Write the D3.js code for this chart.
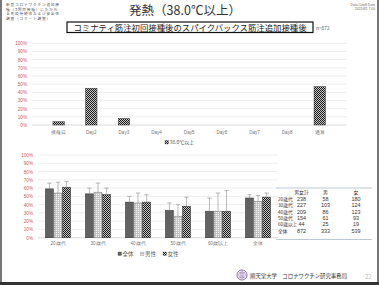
<!DOCTYPE html>
<html>
<head>
<meta charset="utf-8">
<script src="https://cdn.jsdelivr.net/npm/d3@7"></script>
<style>
  body { margin: 0; background: #fff; }
  svg { display: block; font-family: "Noto Sans CJK JP", "Noto Sans", sans-serif; }
</style>
</head>
<body>
<div id="chart"></div>
<script>
// top chart: share with fever >= 38.0 by day
const dayCats = ['接種日', 'Day2', 'Day3', 'Day4', 'Day5', 'Day6', 'Day7', 'Day8', '通算'];
const dayValues = [4, 45, 8, 0, 0, 0, 0, 0, 47];

// bottom chart: by age group and sex
const ageGroups = ['20歳代', '30歳代', '40歳代', '50歳代', '60歳以上', '全体'];
const sexSeries = ['全体', '男性', '女性'];
const sexValues = {
  '全体': [59, 53, 43, 33, 32, 48],
  '男性': [54, 55, 42, 26, 32, 44],
  '女性': [61, 52, 43, 38, 32, 49]
};
const sexUpper = {
  '全体': [66, 60, 50, 42, 48, 52],
  '男性': [67, 66, 54, 40, 54, 51],
  '女性': [68, 60, 52, 49, 57, 54]
};
const pctTicks = [0, 10, 20, 30, 40, 50, 60, 70, 80, 90, 100];

// table of n
const tableHead = ['男女計', '男', '女'];
const tableRows = [
  ['20歳代', 238, 58, 180],
  ['30歳代', 227, 103, 124],
  ['40歳代', 209, 86, 123],
  ['50歳代', 154, 61, 93],
  ['60歳以上', 44, 25, 19],
  ['全体', 872, 333, 539]
];

const width = 379, height = 285;
const svg = d3.select('#chart').append('svg')
  .attr('width', width)
  .attr('height', height);

// patterns
const defs = svg.append('defs');
const checker = defs.append('pattern')
  .attr('id', 'checker').attr('patternUnits', 'userSpaceOnUse')
  .attr('width', 2).attr('height', 2);
checker.append('rect').attr('width', 2).attr('height', 2).attr('fill', '#c8c8c8');
checker.append('rect').attr('width', 1).attr('height', 1).attr('fill', '#1a1a1a');
checker.append('rect').attr('x', 1).attr('y', 1).attr('width', 1).attr('height', 1).attr('fill', '#1a1a1a');

const dots = defs.append('pattern')
  .attr('id', 'dots').attr('patternUnits', 'userSpaceOnUse')
  .attr('width', 2).attr('height', 2);
dots.append('rect').attr('width', 2).attr('height', 2).attr('fill', '#c4c4c4');
dots.append('rect').attr('width', 1).attr('height', 1).attr('fill', '#fafafa');

const fills = { '全体': '#626262', '男性': 'url(#dots)', '女性': 'url(#checker)' };
const strokes = { '全体': '#3a3a3a', '男性': '#808080', '女性': '#333' };

// slide frame
svg.append('rect').attr('x', 0).attr('y', 0).attr('width', 2).attr('height', height).attr('fill', '#777');
svg.append('rect').attr('x', 377).attr('y', 0).attr('width', 2).attr('height', height).attr('fill', '#777');
svg.append('rect').attr('x', 0).attr('y', 282).attr('width', width).attr('height', 3).attr('fill', '#333');

// header texts
const note = ['新型コロナワクチン追加接', '種（3回目接種）にかかわ', 'る免疫持続性および安全性', '調査（コホート調査）'];
svg.append('g').selectAll('text')
  .data(note).enter().append('text')
  .attr('x', 6).attr('y', (d, i) => 6.3 + i * 4.5)
  .attr('font-size', 3.7).attr('letter-spacing', 0.8).attr('fill', '#555')
  .text(d => d);

svg.append('text')
  .attr('x', 185).attr('y', 15)
  .attr('text-anchor', 'middle')
  .attr('font-size', 12.5).attr('fill', '#333')
  .text('発熱（38.0℃以上）');

const cutoff = ['Data Cutoff Date', '2022/4/1 7:00'];
svg.append('g').selectAll('text')
  .data(cutoff).enter().append('text')
  .attr('x', 375).attr('y', (d, i) => 6 + i * 4)
  .attr('text-anchor', 'end')
  .attr('font-size', 3.3).attr('fill', '#666')
  .attr('font-family', '"Liberation Sans", sans-serif')
  .text(d => d);

svg.append('rect')
  .attr('x', 67).attr('y', 22).attr('width', 246).attr('height', 10.5)
  .attr('fill', 'none').attr('stroke', '#111').attr('stroke-width', 1.2);
svg.append('text')
  .attr('x', 190).attr('y', 30.5)
  .attr('text-anchor', 'middle')
  .attr('font-size', 8.4).attr('fill', '#222')
  .text('コミナティ筋注初回接種後のスパイクバックス筋注追加接種後');
svg.append('text').attr('x', 316).attr('y', 29.5).attr('font-size', 4.8).attr('fill', '#555').text('n=872');

// ---- top chart ----
const x1Scale = d3.scaleBand()
  .domain(dayCats)
  .range([31.7, 346.7])
  .padding(0.65);
const y1Scale = d3.scaleLinear()
  .domain([0, 100])
  .range([125, 43.3]);

const topChart = svg.append('g');
topChart.selectAll('line.grid')
  .data(pctTicks).enter().append('line')
  .attr('x1', 31.7).attr('x2', 346.7)
  .attr('y1', d => y1Scale(d)).attr('y2', d => y1Scale(d))
  .attr('stroke', d => d === 0 ? '#bfbfbf' : '#e3e3e3').attr('stroke-width', 0.6);

const yAxis1 = d3.axisLeft(y1Scale).tickValues(pctTicks).tickFormat(d => d + '%').tickSize(0).tickPadding(0);
topChart.append('g')
  .attr('transform', 'translate(27, 0)')
  .call(yAxis1)
  .call(g => g.select('.domain').remove())
  .call(g => g.selectAll('text').attr('font-size', 4.6).attr('fill', '#d05a5a').attr('font-family', '"Liberation Sans", sans-serif'));

const xAxis1 = d3.axisBottom(x1Scale).tickSize(0).tickPadding(0);
topChart.append('g')
  .attr('transform', 'translate(0, 131)')
  .call(xAxis1)
  .call(g => g.select('.domain').remove())
  .call(g => g.selectAll('text').attr('font-size', 4.6).attr('fill', '#777'));

topChart.selectAll('rect.bar')
  .data(dayValues).enter().append('rect')
  .attr('class', 'bar')
  .attr('x', (d, i) => x1Scale(dayCats[i]))
  .attr('y', d => y1Scale(d))
  .attr('width', x1Scale.bandwidth())
  .attr('height', d => y1Scale(0) - y1Scale(d))
  .attr('fill', 'url(#checker)')
  .attr('stroke', '#333').attr('stroke-width', 0.5)
  .attr('display', d => d > 0 ? null : 'none');

topChart.append('rect').attr('x', 165).attr('y', 140.5).attr('width', 3.5).attr('height', 3.5)
  .attr('fill', 'url(#checker)').attr('stroke', '#333').attr('stroke-width', 0.3);
topChart.append('text').attr('x', 169.5).attr('y', 144.2).attr('font-size', 5).attr('fill', '#555').text('38.0℃以上');

// ---- bottom chart ----
const x0Scale = d3.scaleBand()
  .domain(ageGroups)
  .range([38, 278])
  .paddingInner(0.375)
  .paddingOuter(0.1875);
const xsScale = d3.scaleBand()
  .domain(sexSeries)
  .range([0, x0Scale.bandwidth()])
  .paddingInner(0.08);
const y2Scale = d3.scaleLinear()
  .domain([0, 100])
  .range([237.7, 155]);

const bottomChart = svg.append('g');
bottomChart.selectAll('line.grid')
  .data(pctTicks).enter().append('line')
  .attr('x1', 38).attr('x2', 278)
  .attr('y1', d => y2Scale(d)).attr('y2', d => y2Scale(d))
  .attr('stroke', d => d === 0 ? '#bfbfbf' : '#e3e3e3').attr('stroke-width', 0.6);

const yAxis2 = d3.axisLeft(y2Scale).tickValues(pctTicks).tickFormat(d => d + '%').tickSize(0).tickPadding(0);
bottomChart.append('g')
  .attr('transform', 'translate(33, 0)')
  .call(yAxis2)
  .call(g => g.select('.domain').remove())
  .call(g => g.selectAll('text').attr('font-size', 4.6).attr('fill', '#d05a5a').attr('font-family', '"Liberation Sans", sans-serif'));

const xAxis2 = d3.axisBottom(x0Scale).tickSize(0).tickPadding(0);
bottomChart.append('g')
  .attr('transform', 'translate(0, 241.5)')
  .call(xAxis2)
  .call(g => g.select('.domain').remove())
  .call(g => g.selectAll('text').attr('font-size', 4.6).attr('fill', '#777'));

sexSeries.forEach(s => {
  const g = bottomChart.append('g');
  g.selectAll('rect')
    .data(sexValues[s]).enter().append('rect')
    .attr('x', (d, i) => x0Scale(ageGroups[i]) + xsScale(s))
    .attr('y', d => y2Scale(d))
    .attr('width', xsScale.bandwidth())
    .attr('height', d => y2Scale(0) - y2Scale(d))
    .attr('fill', fills[s])
    .attr('stroke', strokes[s]).attr('stroke-width', 0.6);

  const cx = i => x0Scale(ageGroups[i]) + xsScale(s) + xsScale.bandwidth() / 2;
  g.selectAll('line.err')
    .data(sexUpper[s]).enter().append('line')
    .attr('x1', (d, i) => cx(i)).attr('x2', (d, i) => cx(i))
    .attr('y1', (d, i) => y2Scale(sexValues[s][i]))
    .attr('y2', d => y2Scale(d))
    .attr('stroke', '#8c8c8c').attr('stroke-width', 0.6);
  g.selectAll('line.cap')
    .data(sexUpper[s]).enter().append('line')
    .attr('x1', (d, i) => cx(i) - 2.2).attr('x2', (d, i) => cx(i) + 2.2)
    .attr('y1', d => y2Scale(d)).attr('y2', d => y2Scale(d))
    .attr('stroke', '#8c8c8c').attr('stroke-width', 0.6);
});

// legend
const legend = bottomChart.append('g')
  .selectAll('g')
  .data(sexSeries).enter().append('g')
  .attr('transform', (d, i) => `translate(${118 + i * 22.5}, 252)`);
legend.append('rect')
  .attr('width', 3.5).attr('height', 3.5)
  .attr('fill', d => fills[d])
  .attr('stroke', d => strokes[d]).attr('stroke-width', 0.3);
legend.append('text')
  .attr('x', 4.5).attr('y', 3.8)
  .attr('font-size', 5.5).attr('fill', '#555')
  .text(d => d);

// table
const colX = [278, 301.5, 325.5, 356];
const table = svg.append('g');
table.append('line').attr('x1', 276).attr('x2', 372).attr('y1', 188).attr('y2', 188)
  .attr('stroke', '#9fb3c4').attr('stroke-width', 0.7);
table.append('line').attr('x1', 276).attr('x2', 372).attr('y1', 239.5).attr('y2', 239.5)
  .attr('stroke', '#9fb3c4').attr('stroke-width', 0.7);
table.selectAll('text.head')
  .data(tableHead).enter().append('text')
  .attr('x', (d, i) => colX[i + 1]).attr('y', 194.3)
  .attr('text-anchor', 'middle')
  .attr('font-size', 4.8).attr('fill', '#333')
  .text(d => d);
const rows = table.selectAll('g.row')
  .data(tableRows).enter().append('g')
  .attr('transform', (d, i) => `translate(0, ${201 + i * 6.3})`);
rows.selectAll('text')
  .data(d => d).enter().append('text')
  .attr('x', (d, i) => colX[i])
  .attr('text-anchor', (d, i) => i === 0 ? 'start' : 'middle')
  .attr('font-size', (d, i) => i === 0 ? 4.7 : 5.4)
  .attr('fill', '#333')
  .attr('font-family', (d, i) => i === 0 ? null : '"Liberation Sans", sans-serif')
  .text(d => d);

// footer
const logo = svg.append('g').attr('transform', 'translate(242, 275)');
logo.append('circle').attr('r', 5).attr('fill', 'none').attr('stroke', '#6a4a8a').attr('stroke-width', 0.8);
logo.append('circle').attr('r', 3.3).attr('fill', 'none').attr('stroke', '#6a4a8a').attr('stroke-width', 0.5);
[-1.2, 0, 1.2].forEach(dx => logo.append('line')
  .attr('x1', dx).attr('x2', dx).attr('y1', -3).attr('y2', 3)
  .attr('stroke', '#6a4a8a').attr('stroke-width', 0.5));
svg.append('text').attr('x', 250).attr('y', 277.5)
  .attr('font-size', 5.4).attr('fill', '#333')
  .text('順天堂大学　コロナワクチン研究事務局');
svg.append('text').attr('x', 365).attr('y', 279)
  .attr('font-size', 6).attr('fill', '#bbb')
  .text('22');
</script>
</body>
</html>
